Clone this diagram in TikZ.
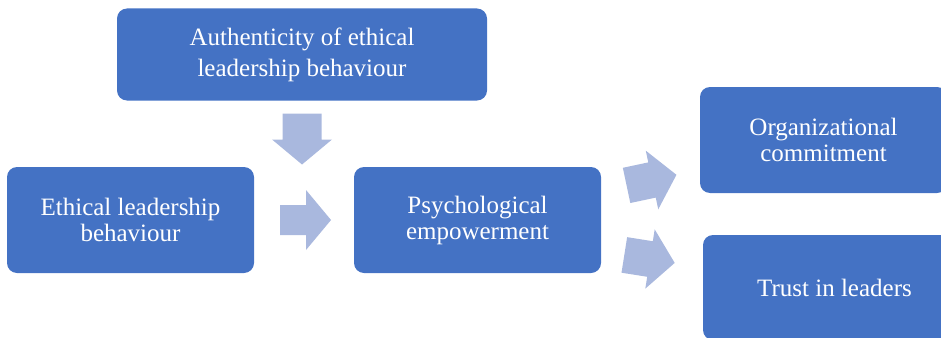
\documentclass[tikz,border=0pt]{standalone}
\usepackage{fontspec}
\setmainfont{Liberation Serif}
\definecolor{boxblue}{RGB}{68,114,196}
\definecolor{arrowblue}{RGB}{169,184,222}
\newcommand\BlockArrow[4]{%
  \begin{scope}[shift={(#1,#2)},rotate=#3]
    \fill[arrowblue] (-26,-#4) -- (0,-#4) -- (0,-30) -- (25,0) -- (0,30) -- (0,#4) -- (-26,#4) -- cycle;
  \end{scope}}
\begin{document}
\begin{tikzpicture}[x=1pt,y=-1pt,
  box/.style={rectangle, rounded corners=10pt, fill=boxblue, text=white, align=center,
    inner sep=0pt, font=\fontsize{25}{26}\selectfont}]
\useasboundingbox (0,0) rectangle (941,337);
\clip (0,0) rectangle (941,337);
\node[box, minimum width=370pt, minimum height=92pt, font=\fontsize{25}{31}\selectfont] (auth) at (302,54.5) {Authenticity of ethical\\leadership behaviour};
\node[box, minimum width=247pt, minimum height=106pt] (elb) at (130.5,220) {Ethical leadership\\behaviour};
\node[box, minimum width=247pt, minimum height=106pt] (pe) at (477.5,220) {Psychological\\empowerment};
\node[box, minimum width=247pt, minimum height=106pt] (oc) at (823.5,140) {Organizational\\commitment};
\node[box, minimum width=263pt, minimum height=105pt] (tl) at (834.5,287.5) {Trust in leaders};
\BlockArrow{302}{139.5}{-90}{19.5}
\BlockArrow{306}{220}{0}{15}
\BlockArrow{652}{180}{12}{18}
\BlockArrow{650}{259}{-9}{18}
\end{tikzpicture}
\end{document}
